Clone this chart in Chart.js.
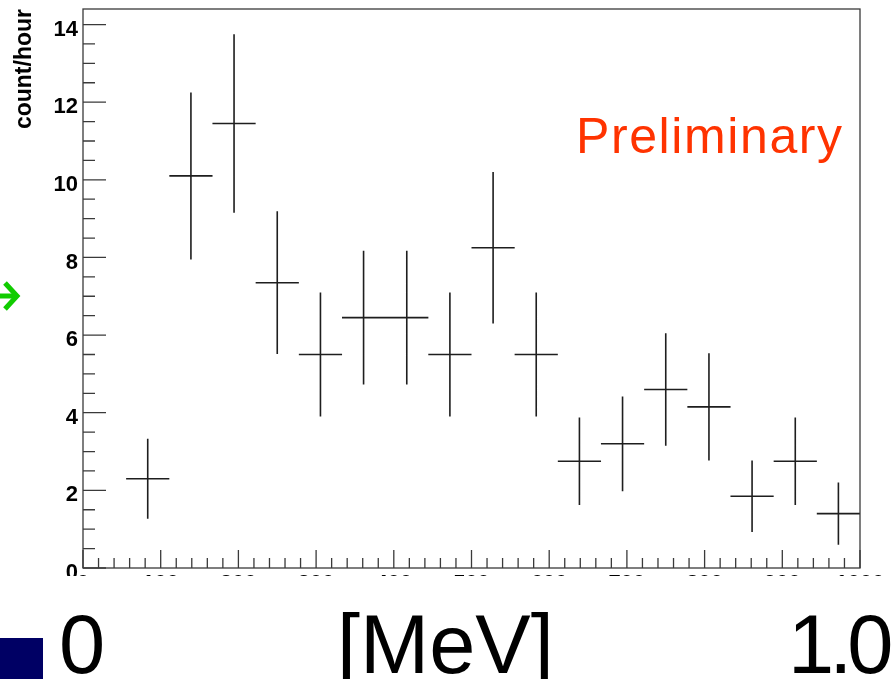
<!DOCTYPE html>
<html>
<head>
<meta charset="utf-8">
<script src="https://cdn.jsdelivr.net/npm/chart.js@4.4.1/dist/chart.umd.min.js"></script>
<style>
  html, body { margin: 0; padding: 0; background: #fff; }
  body { width: 892px; height: 679px; position: relative; overflow: hidden; font-family: "Liberation Sans", Arial, sans-serif; }
  #plot { position: absolute; left: 0; top: 0; width: 892px; height: 576px; overflow: hidden; }
  #prelim { position: absolute; left: 576px; top: 111px; font-size: 50px; line-height: 1; letter-spacing: 1.6px; color: #ff3300; white-space: nowrap; }
  .big { position: absolute; top: 603px; font-size: 83px; line-height: 1; color: #000; white-space: nowrap; }
  #zero { left: 59px; }
  #mev { left: 337px; }
  #one { left: 788px; letter-spacing: -5px; }
  #navy { position: absolute; left: 0; top: 638px; width: 43px; height: 41px; background: #000064; }
  #arrow { position: absolute; left: 0; top: 280px; }
</style>
</head>
<body>
<div id="plot"><canvas id="myChart" width="892" height="679"></canvas></div>
<div id="prelim">Preliminary</div>
<svg id="arrow" width="24" height="32" viewBox="0 0 24 32">
  <line x1="0" y1="16" x2="15" y2="16" stroke="#11cc00" stroke-width="5"/>
  <polyline points="5,3 17,16 5,29" fill="none" stroke="#11cc00" stroke-width="5"/>
</svg>
<div id="navy"></div>
<div class="big" id="zero">0</div>
<div class="big" id="mev">[MeV]</div>
<div class="big" id="one">1.0</div>
<script>
// bin centres in keV (18 bins of 55.6 keV, first bin empty)
const binCenters = [83.3, 138.9, 194.4, 250.0, 305.6, 361.1, 416.7, 472.2, 527.8, 583.3, 638.9, 694.4, 750.0, 805.6, 861.1, 916.7, 972.2];
const binHalfWidth = 27.8;
const countRate = [2.3, 10.1, 11.45, 7.35, 5.5, 6.45, 6.45, 5.5, 8.25, 5.5, 2.75, 3.2, 4.6, 4.15, 1.85, 2.75, 1.4];
const rateError = [1.03, 2.15, 2.3, 1.84, 1.6, 1.72, 1.72, 1.6, 1.95, 1.6, 1.13, 1.22, 1.45, 1.38, 0.92, 1.13, 0.8];
const xTickLabels = ['0', '100', '200', '300', '400', '500', '600', '700', '800', '900', '1000'];
const yTickLabels = ['0', '2', '4', '6', '8', '10', '12', '14'];

function generateChart() {
  // each bin -> horizontal bar (bin width) + vertical error bar, split by null gaps
  var segments = [];
  binCenters.forEach((c, i) => {
    segments.push({ x: c - binHalfWidth, y: countRate[i] }, { x: c + binHalfWidth, y: countRate[i] }, { x: c, y: null });
    segments.push({ x: c, y: countRate[i] - rateError[i] }, { x: c, y: countRate[i] + rateError[i] }, { x: c, y: null });
  });

  // ROOT style frame with inner ticks
  const rootFrame = {
    id: 'rootFrame',
    afterDatasetsDraw(chart) {
      const { ctx, chartArea: a, scales: { x, y } } = chart;
      ctx.save();
      ctx.strokeStyle = '#3a3a3a';
      ctx.lineWidth = 1.3;
      ctx.strokeRect(a.left, a.top, a.right - a.left, a.bottom - a.top);
      ctx.beginPath();
      for (let v = 0; v <= 14; v += 0.5) {
        const p = y.getPixelForValue(v);
        const len = v % 2 === 0 ? 23 : 12;
        ctx.moveTo(a.left, p);
        ctx.lineTo(a.left + len, p);
      }
      for (let v = 0; v <= 1000; v += 20) {
        const p = x.getPixelForValue(v);
        const len = v % 100 === 0 ? 18 : 10;
        ctx.moveTo(p, a.bottom);
        ctx.lineTo(p, a.bottom - len);
      }
      ctx.stroke();
      ctx.restore();
    }
  };

  var ctx = document.getElementById('myChart').getContext('2d');
  window.myChart = new Chart(ctx, {
    type: 'line',
    data: {
      datasets: [{
        label: 'count/hour',
        data: segments,
        borderColor: '#1e1e1e',
        borderWidth: 1.6,
        pointRadius: 0,
        spanGaps: false,
        fill: false
      }]
    },
    options: {
      responsive: false,
      animation: false,
      layout: { autoPadding: false, padding: { left: 0, right: 32, top: 9, bottom: 0 } },
      scales: {
        x: {
          type: 'linear',
          min: 0,
          max: 1000,
          afterFit: s => { s.height = 111; s.paddingLeft = 0; s.paddingRight = 0; },
          grid: { display: false, drawTicks: false },
          border: { display: false },
          ticks: {
            stepSize: 100,
            autoSkip: false,
            maxRotation: 0,
            padding: 3,
            color: '#000',
            font: { family: 'Liberation Sans', weight: 'bold', size: 22 },
            callback: (v, i) => xTickLabels[i]
          }
        },
        y: {
          min: 0,
          max: 14.4,
          afterFit: s => { s.width = 83; s.paddingTop = 0; s.paddingBottom = 0; },
          grid: { display: false, drawTicks: false },
          border: { display: false },
          ticks: {
            stepSize: 2,
            includeBounds: false,
            padding: 5,
            labelOffset: 5,
            color: '#000',
            font: { family: 'Liberation Sans', weight: 'bold', size: 22 },
            callback: (v, i) => yTickLabels[i]
          },
          title: {
            display: true,
            text: 'count/hour',
            align: 'end',
            color: '#000',
            font: { family: 'Liberation Sans', weight: 'bold', size: 23 },
            padding: { top: 11, bottom: 0 }
          }
        }
      },
      plugins: {
        legend: { display: false },
        tooltip: { enabled: false }
      }
    },
    plugins: [rootFrame]
  });
}

generateChart();
</script>
</body>
</html>
